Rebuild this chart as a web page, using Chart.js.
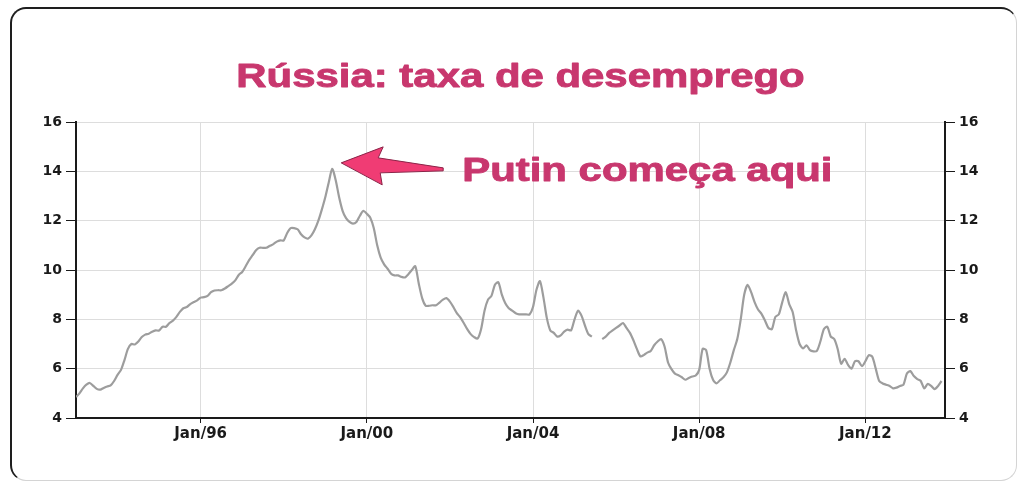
<!DOCTYPE html>
<html>
<head>
<meta charset="utf-8">
<title>Rússia: taxa de desemprego</title>
<script src="https://cdn.jsdelivr.net/npm/chart.js@4.4.1/dist/chart.umd.min.js"></script>
<style>
  body { margin: 0; background: #fff; }
  .wrap { position: relative; width: 1019px; height: 484px; }
  .frame {
    position: absolute; left: 10px; top: 7px; width: 1007px; height: 474px;
    box-sizing: border-box; border-radius: 16px;
    border: 2px solid #1e1e1e;
    border-right: 1px solid #d4d4d4; border-bottom: 1px solid #d4d4d4;
  }
  canvas { position: absolute; left: 0; top: 0; }
</style>
</head>
<body>
<div class="wrap">
  <div class="frame"></div>
  <canvas id="myChart" width="1019" height="484"></canvas>
</div>
<script>
// tasso di disoccupazione mensile (%), un array per anno a partire da gen/1993
var firstYear = 1993;
var rate1993 = [4.85, 5.0, 5.2, 5.35, 5.42, 5.3, 5.18, 5.15, 5.22, 5.28, 5.32, 5.5];
var rate1994 = [5.75, 5.95, 6.35, 6.8, 7.0, 6.98, 7.1, 7.28, 7.38, 7.42, 7.5, 7.55];
var rate1995 = [7.55, 7.7, 7.7, 7.85, 7.95, 8.1, 8.3, 8.45, 8.5, 8.62, 8.7, 8.77];
var rate1996 = [8.88, 8.9, 8.95, 9.1, 9.17, 9.18, 9.18, 9.25, 9.35, 9.45, 9.58, 9.8];
var rate1997 = [9.92, 10.15, 10.4, 10.6, 10.8, 10.9, 10.9, 10.9, 10.98, 11.05, 11.15, 11.2];
var rate1998 = [11.2, 11.5, 11.7, 11.7, 11.65, 11.45, 11.32, 11.27, 11.4, 11.65, 12.0, 12.45];
var rate1999 = [12.95, 13.55, 14.1, 13.65, 12.95, 12.4, 12.1, 11.95, 11.88, 11.95, 12.2, 12.4];
var rate2000 = [12.28, 12.12, 11.7, 11.0, 10.5, 10.23, 10.05, 9.85, 9.78, 9.78, 9.72, 9.7];
var rate2001 = [9.83, 10.0, 10.15, 9.45, 8.85, 8.55, 8.55, 8.57, 8.57, 8.68, 8.8, 8.86];
var rate2002 = [8.72, 8.5, 8.25, 8.08, 7.85, 7.6, 7.4, 7.28, 7.22, 7.6, 8.35, 8.8];
var rate2003 = [8.95, 9.4, 9.5, 9.0, 8.65, 8.45, 8.35, 8.25, 8.2, 8.2, 8.2, 8.2];
var rate2004 = [8.5, 9.2, 9.55, 8.9, 8.05, 7.55, 7.45, 7.3, 7.35, 7.5, 7.58, 7.55];
var rate2005 = [8.0, 8.35, 8.15, 7.75, 7.4, 7.3, null, null, 7.2, 7.3, 7.45, 7.55];
var rate2006 = [7.65, 7.75, 7.85, 7.65, 7.45, 7.15, 6.8, 6.5, 6.55, 6.65, 6.72, 6.95];
var rate2007 = [7.1, 7.2, 6.9, 6.25, 5.98, 5.8, 5.73, 5.65, 5.55, 5.62, 5.68, 5.72];
var rate2008 = [5.95, 6.8, 6.75, 6.0, 5.55, 5.4, 5.53, 5.65, 5.85, 6.25, 6.75, 7.2];
var rate2009 = [8.0, 9.0, 9.4, 9.1, 8.7, 8.4, 8.22, 7.95, 7.65, 7.6, 8.1, 8.2];
var rate2010 = [8.7, 9.1, 8.62, 8.3, 7.55, 7.0, 6.82, 6.95, 6.75, 6.7, 6.72, 7.1];
var rate2011 = [7.6, 7.7, 7.3, 7.2, 6.8, 6.2, 6.4, 6.15, 6.0, 6.3, 6.3, 6.1];
var rate2012 = [6.3, 6.55, 6.48, 6.0, 5.5, 5.4, 5.35, 5.3, 5.2, 5.23, 5.3, 5.35];
var rate2013 = [5.8, 5.9, 5.7, 5.58, 5.5, 5.2, 5.38, 5.3, 5.17, 5.3, 5.5];

// etichette degli assi
var tickYears = [1996, 2000, 2004, 2008, 2012];
var yTickValues = [4, 6, 8, 10, 12, 14, 16];

var titleText = "Rússia: taxa de desemprego";
var noteText = "Putin começa aqui";

var pink = "#c8376e";
var lineGrey = "#9d9d9d";
var gridGrey = "#dddddd";
var axisDark = "#1a1a1a";
var bigFont = "bold 33px 'Liberation Sans'";
var stretch = 1.27; // testo allargato in orizzontale

// unisco gli anni in una serie di punti {x: anno decimale, y: tasso}
function buildPoints() {
  var years = [rate1993, rate1994, rate1995, rate1996, rate1997, rate1998, rate1999,
               rate2000, rate2001, rate2002, rate2003, rate2004, rate2005, rate2006,
               rate2007, rate2008, rate2009, rate2010, rate2011, rate2012, rate2013];
  var points = [];
  for (var i = 0; i < years.length; i++) {
    for (var m = 0; m < years[i].length; m++) {
      points.push({x: firstYear + i + m / 12, y: years[i][m]});
    }
  }
  return points;
}

function findPeak(points) {
  var best = points[0];
  for (var i = 1; i < points.length; i++) {
    if (points[i].y !== null && points[i].y > best.y) best = points[i];
  }
  return best;
}

// scrive un testo largo (scala orizzontale) in x, sulla baseline y
function wideText(ctx, text, x, y, align) {
  ctx.save();
  ctx.font = bigFont;
  ctx.fillStyle = pink;
  ctx.strokeStyle = pink;
  ctx.lineWidth = 0.9;
  ctx.lineJoin = "round";
  ctx.textBaseline = "alphabetic";
  ctx.textAlign = align;
  ctx.translate(x, y);
  ctx.scale(stretch, 1);
  ctx.fillText(text, 0, 0);
  ctx.strokeText(text, 0, 0);
  ctx.restore();
}

var points = buildPoints();

// titolo, freccia e testo "Putin começa aqui" ancorati al picco della serie
var putinNote = {
  id: "putinNote",
  afterDatasetsDraw: function(chart) {
    var ctx = chart.ctx;
    var area = chart.chartArea;
    wideText(ctx, titleText, (area.left + area.right) / 2 + 10, area.top - 35, "center");

    var peak = findPeak(points);
    var px = chart.scales.x.getPixelForValue(peak.x);
    var py = chart.scales.y.getPixelForValue(peak.y);
    var tx = px + 9;
    var ty = py - 6;

    ctx.save();
    ctx.beginPath();
    ctx.moveTo(tx, ty);
    ctx.lineTo(tx + 42, ty - 16);
    ctx.lineTo(tx + 37, ty - 5);
    ctx.lineTo(tx + 102, ty + 5);
    ctx.lineTo(tx + 102, ty + 8);
    ctx.lineTo(tx + 39, ty + 10);
    ctx.lineTo(tx + 41, ty + 22);
    ctx.closePath();
    ctx.fillStyle = "#f03c74";
    ctx.fill();
    ctx.lineWidth = 1;
    ctx.strokeStyle = "#8a2448";
    ctx.stroke();
    ctx.restore();

    wideText(ctx, noteText, px + 130, py + 12, "left");
  }
};

var tickFont = {family: "'DejaVu Sans'", size: 14, weight: "bold"};

var ctx = document.getElementById("myChart").getContext("2d");
var myChart = new Chart(ctx, {
  type: "line",
  data: {
    datasets: [{
      data: points,
      borderColor: lineGrey,
      borderWidth: 2.2,
      pointRadius: 0,
      tension: 0.25,
      spanGaps: false
    }]
  },
  options: {
    responsive: false,
    animation: false,
    events: [],
    layout: {padding: {top: 122}},
    plugins: {
      legend: {display: false},
      tooltip: {enabled: false}
    },
    scales: {
      x: {
        type: "linear",
        min: firstYear,
        max: firstYear + 251 / 12,
        afterBuildTicks: function(scale) {
          scale.ticks = tickYears.map(function(v) { return {value: v}; });
        },
        afterFit: function(scale) { scale.height = 66; },
        ticks: {
          color: axisDark,
          font: {family: "'DejaVu Sans'", size: 15, weight: "bold"},
          padding: 2,
          maxRotation: 0,
          callback: function(v) { return "Jan/" + String(v).slice(2); }
        },
        grid: {color: gridGrey, tickColor: axisDark, tickLength: 5, lineWidth: 1},
        border: {color: axisDark, width: 2}
      },
      y: {
        position: "left",
        min: yTickValues[0],
        max: yTickValues[yTickValues.length - 1],
        afterBuildTicks: function(scale) {
          scale.ticks = yTickValues.map(function(v) { return {value: v}; });
        },
        afterFit: function(scale) { scale.width = 76; },
        ticks: {color: axisDark, font: tickFont, padding: 4},
        grid: {color: gridGrey, tickColor: axisDark, tickLength: 10, lineWidth: 1},
        border: {color: axisDark, width: 2}
      },
      y2: {
        position: "right",
        min: yTickValues[0],
        max: yTickValues[yTickValues.length - 1],
        afterBuildTicks: function(scale) {
          scale.ticks = yTickValues.map(function(v) { return {value: v}; });
        },
        afterFit: function(scale) { scale.width = 74; },
        ticks: {color: axisDark, font: tickFont, padding: 4},
        grid: {drawOnChartArea: false, tickColor: axisDark, tickLength: 10},
        border: {color: axisDark, width: 2}
      }
    }
  },
  plugins: [putinNote]
});
</script>
</body>
</html>
